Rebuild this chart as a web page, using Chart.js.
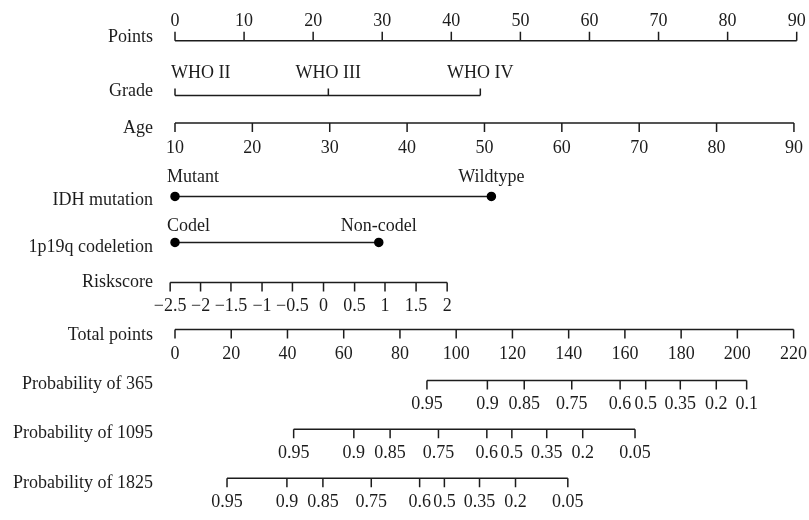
<!DOCTYPE html>
<html lang="en">
<head>
  <meta charset="UTF-8" />
  <title>Nomogram</title>
  <script src="https://cdn.jsdelivr.net/npm/chart.js"></script>
  <style>
    body { margin: 0; background: #fff; }
    #wrap { width: 809px; height: 520px; position: relative; }
  </style>
</head>
<body>
  <div id="wrap"><canvas id="nomo"></canvas></div>

  <script>
    // values ("points" = position on the Points axis)
    const pointsTicks = [0, 10, 20, 30, 40, 50, 60, 70, 80, 90];
    const gradeLevels = ["WHO II", "WHO III", "WHO IV"];
    const gradePoints = [0, 22.2, 44.2];
    const ageTicks = [10, 20, 30, 40, 50, 60, 70, 80, 90];
    const agePoints = [0, 11.2, 22.4, 33.6, 44.8, 56.0, 67.2, 78.4, 89.6];
    const idhLevels = ["Mutant", "Wildtype"];
    const idhPoints = [0, 45.8];
    const codelLevels = ["Codel", "Non-codel"];
    const codelPoints = [0, 29.5];
    const riskTicks = [-2.5, -2, -1.5, -1, -0.5, 0, 0.5, 1, 1.5, 2];
    const riskPoints = [-0.7, 3.7, 8.1, 12.6, 17.0, 21.5, 26.0, 30.4, 34.9, 39.4];
    const totalTicks = [0, 20, 40, 60, 80, 100, 120, 140, 160, 180, 200, 220];
    const prob365Ticks = [0.95, 0.9, 0.85, 0.75, 0.6, 0.5, 0.35, 0.2, 0.1];
    const prob365Total = [89.6, 111.1, 124.2, 141.1, 158.3, 167.4, 179.7, 192.5, 203.3];
    const prob1095Ticks = [0.95, 0.9, 0.85, 0.75, 0.6, 0.5, 0.35, 0.2, 0.05];
    const prob1095Total = [42.2, 63.6, 76.5, 93.7, 110.9, 119.8, 132.2, 145.0, 163.6];
    const prob1825Ticks = [0.95, 0.9, 0.85, 0.75, 0.6, 0.5, 0.35, 0.2, 0.05];
    const prob1825Total = [18.5, 39.8, 52.6, 69.8, 87.0, 95.8, 108.3, 121.1, 139.7];

    const FONT = '18px "Liberation Serif", "DejaVu Serif", serif';
    const INK = "#1c1c1c";
    const fmt = v => String(v).replace("-", "\u2212");

    // row layout: y of the axis line, where its name sits, tick direction
    const rows = [
      { name: "Points", y: 36, nameY: 32, scale: "x", at: pointsTicks, text: pointsTicks.map(String), dir: -1, len: 9, lab: -19 },
      { name: "Grade", y: 92, nameY: 88, scale: "x", at: gradePoints, text: gradeLevels, dir: -1, len: 7, lab: -22, firstLeft: 4 },
      { name: "Age", y: 120, nameY: 125, scale: "x", at: agePoints, text: ageTicks.map(String), dir: 1, len: 9, lab: 25 },
      { name: "IDH mutation", y: 195, nameY: 199, scale: "x", at: idhPoints, text: idhLevels, dir: 0, lab: -19, firstLeft: 8 },
      { name: "1p19q codeletion", y: 242, nameY: 247, scale: "x", at: codelPoints, text: codelLevels, dir: 0, lab: -16, firstLeft: 8 },
      { name: "Riskscore", y: 283, nameY: 283, scale: "x", at: riskPoints, text: riskTicks.map(fmt), dir: 1, len: 9, lab: 24 },
      { name: "Total points", y: 331, nameY: 337, scale: "xt", at: totalTicks, text: totalTicks.map(String), dir: 1, len: 9, lab: 25 },
      { name: "Probability of 365", y: 383, nameY: 387, scale: "xt", at: prob365Total, text: prob365Ticks.map(String), dir: 1, len: 9, lab: 24 },
      { name: "Probability of 1095", y: 433, nameY: 437, scale: "xt", at: prob1095Total, text: prob1095Ticks.map(String), dir: 1, len: 9, lab: 24 },
      { name: "Probability of 1825", y: 483, nameY: 488, scale: "xt", at: prob1825Total, text: prob1825Ticks.map(String), dir: 1, len: 9, lab: 24 }
    ];

    const nomogramAxes = {
      id: "nomogramAxes",
      beforeDatasetsDraw(chart) {
        const ctx = chart.ctx;
        const ys = chart.scales.y;
        ctx.save();
        ctx.strokeStyle = INK;
        ctx.fillStyle = INK;
        ctx.lineWidth = 1.5;
        ctx.font = FONT;
        ctx.textBaseline = "middle";
        rows.forEach(r => {
          const xs = chart.scales[r.scale];
          const y = ys.getPixelForValue(r.y);
          const px = r.at.map(v => xs.getPixelForValue(v));
          // row name
          ctx.textAlign = "right";
          ctx.fillText(r.name, 153, ys.getPixelForValue(r.nameY));
          if (r.dir !== 0) {
            ctx.beginPath();
            ctx.moveTo(px[0], y);
            ctx.lineTo(px[px.length - 1], y);
            px.forEach(x => {
              ctx.moveTo(x, y);
              ctx.lineTo(x, y + r.dir * r.len);
            });
            ctx.stroke();
          }
          px.forEach((x, i) => {
            if (i === 0 && r.firstLeft) {
              ctx.textAlign = "left";
              ctx.fillText(r.text[i], x - r.firstLeft, y + r.lab);
            } else {
              ctx.textAlign = "center";
              ctx.fillText(r.text[i], x, y + r.lab);
            }
          });
        });
        ctx.restore();
      }
    };

    const dotRow = (pts, y) => ({
      data: pts.map(p => ({ x: p, y: y })),
      showLine: true,
      borderColor: INK,
      borderWidth: 1.5,
      backgroundColor: "#000",
      pointBackgroundColor: "#000",
      pointBorderColor: "#000",
      pointRadius: 4,
      pointHoverRadius: 4,
      clip: false
    });

    new Chart(document.getElementById("nomo"), {
      type: "scatter",
      data: {
        datasets: [dotRow(idhPoints, 195), dotRow(codelPoints, 242)]
      },
      options: {
        responsive: true,
        maintainAspectRatio: false,
        animation: false,
        events: [],
        layout: { padding: { left: 175, right: 12.3, top: 0, bottom: 0 } },
        plugins: { legend: { display: false }, tooltip: { enabled: false } },
        scales: {
          x: { type: "linear", min: 0, max: 90, display: false },
          xt: { type: "linear", axis: "x", min: 0, max: 221.1, display: false },
          y: { type: "linear", min: 0, max: 520, reverse: true, display: false }
        }
      },
      plugins: [nomogramAxes]
    });
  </script>
</body>
</html>
